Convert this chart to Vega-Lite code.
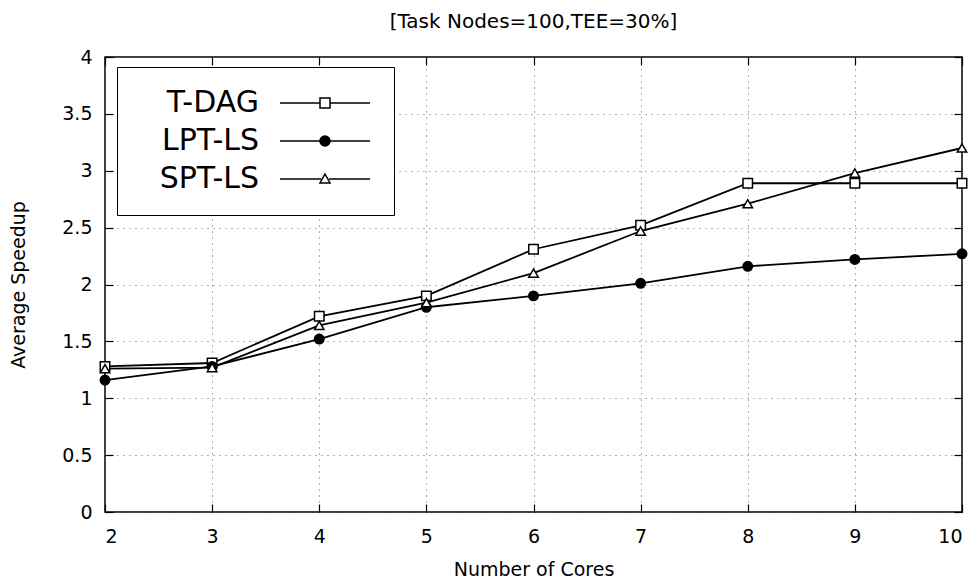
{
  "$schema": "https://vega.github.io/schema/vega-lite/v6.json",
  "width": 857,
  "height": 455,
  "autosize": {"type": "none"},
  "padding": {"left": 105, "top": 57, "right": 16, "bottom": 69},
  "background": "white",
  "config": {
    "font": "DejaVu Sans",
    "view": {"stroke": "black", "strokeWidth": 1.5},
    "axis": {
      "domain": false,
      "tickColor": "black",
      "tickSize": -8,
      "tickWidth": 1.2,
      "labelFontSize": 19,
      "labelColor": "black",
      "titleFontSize": 19,
      "titleFontWeight": "normal",
      "titleColor": "black",
      "gridColor": "#666666",
      "gridDash": [1, 5],
      "gridWidth": 1
    }
  },
  "title": {"text": "[Task Nodes=100,TEE=30%]", "fontSize": 20, "fontWeight": "normal", "color": "black", "offset": 16, "anchor": "middle"},
  "data": {
    "values": [
      {"cores": 2, "speedup": 1.28, "series": "T-DAG"},
      {"cores": 3, "speedup": 1.31, "series": "T-DAG"},
      {"cores": 4, "speedup": 1.72, "series": "T-DAG"},
      {"cores": 5, "speedup": 1.9, "series": "T-DAG"},
      {"cores": 6, "speedup": 2.31, "series": "T-DAG"},
      {"cores": 7, "speedup": 2.52, "series": "T-DAG"},
      {"cores": 8, "speedup": 2.89, "series": "T-DAG"},
      {"cores": 9, "speedup": 2.89, "series": "T-DAG"},
      {"cores": 10, "speedup": 2.89, "series": "T-DAG"},
      {"cores": 2, "speedup": 1.16, "series": "LPT-LS"},
      {"cores": 3, "speedup": 1.28, "series": "LPT-LS"},
      {"cores": 4, "speedup": 1.52, "series": "LPT-LS"},
      {"cores": 5, "speedup": 1.8, "series": "LPT-LS"},
      {"cores": 6, "speedup": 1.9, "series": "LPT-LS"},
      {"cores": 7, "speedup": 2.01, "series": "LPT-LS"},
      {"cores": 8, "speedup": 2.16, "series": "LPT-LS"},
      {"cores": 9, "speedup": 2.22, "series": "LPT-LS"},
      {"cores": 10, "speedup": 2.27, "series": "LPT-LS"},
      {"cores": 2, "speedup": 1.26, "series": "SPT-LS"},
      {"cores": 3, "speedup": 1.27, "series": "SPT-LS"},
      {"cores": 4, "speedup": 1.64, "series": "SPT-LS"},
      {"cores": 5, "speedup": 1.84, "series": "SPT-LS"},
      {"cores": 6, "speedup": 2.1, "series": "SPT-LS"},
      {"cores": 7, "speedup": 2.47, "series": "SPT-LS"},
      {"cores": 8, "speedup": 2.71, "series": "SPT-LS"},
      {"cores": 9, "speedup": 2.98, "series": "SPT-LS"},
      {"cores": 10, "speedup": 3.2, "series": "SPT-LS"}
    ]
  },
  "layer": [
    {
      "mark": {"type": "line", "color": "black", "strokeWidth": 1.8},
      "encoding": {
        "x": {"field": "cores", "type": "quantitative", "scale": {"domain": [2, 10], "nice": false, "zero": false},
              "axis": {"orient": "bottom", "values": [2, 3, 4, 5, 6, 7, 8, 9, 10], "grid": true, "title": "Number of Cores", "labelPadding": 23, "titlePadding": 14}},
        "y": {"field": "speedup", "type": "quantitative", "scale": {"domain": [0, 4], "nice": false},
              "axis": {"orient": "left", "values": [0, 0.5, 1, 1.5, 2, 2.5, 3, 3.5, 4], "grid": true, "format": "~g", "title": "Average Speedup", "labelPadding": 21, "titlePadding": 33}},
        "detail": {"field": "series", "type": "nominal"}
      }
    },
    {
      "mark": {"type": "point", "filled": true, "stroke": "black", "strokeWidth": 1.5, "size": 90, "opacity": 1},
      "encoding": {
        "x": {"field": "cores", "type": "quantitative", "axis": null},
        "y": {"field": "speedup", "type": "quantitative", "axis": null},
        "shape": {"field": "series", "type": "nominal", "scale": {"domain": ["T-DAG", "LPT-LS", "SPT-LS"], "range": ["square", "circle", "triangle-up"]}, "legend": null},
        "fill": {"field": "series", "type": "nominal", "scale": {"domain": ["T-DAG", "LPT-LS", "SPT-LS"], "range": ["white", "black", "white"]}, "legend": null}
      }
    },
    {
      "transform": [{"filter": "datum.speedup < 0"}],
      "mark": {"type": "point", "filled": true, "stroke": "black", "strokeWidth": 1.5, "size": 100, "opacity": 1},
      "encoding": {
        "x": {"field": "cores", "type": "quantitative", "axis": {"orient": "top", "values": [2, 3, 4, 5, 6, 7, 8, 9, 10], "labels": false, "grid": false, "title": null}},
        "y": {"field": "speedup", "type": "quantitative", "axis": {"orient": "right", "values": [0, 0.5, 1, 1.5, 2, 2.5, 3, 3.5, 4], "labels": false, "grid": false, "title": null}},
        "shape": {"field": "series", "type": "nominal",
          "scale": {"domain": ["T-DAG", "LPT-LS", "SPT-LS"],
                    "range": ["M-9,0H-1M1,0H9M-1,-1H1V1H-1Z", "M-9,0H9M-1,0A1,1 0 1,0 1,0A1,1 0 1,0 -1,0Z", "M-9,0H-0.8M0.8,0H9M0,-1L1,0.8H-1Z"]},
          "legend": {"orient": "none", "legendX": 12, "legendY": 10, "title": null, "labelFontSize": 30, "labelColor": "black", "labelAlign": "right", "labelOffset": -81, "symbolOffset": 172, "symbolSize": 100, "symbolStrokeWidth": 1.5, "symbolStrokeColor": "black", "symbolOpacity": 1, "strokeColor": "black", "fillColor": "white", "padding": 21, "rowPadding": 8,
                     "encode": {"symbols": {"update": {"stroke": {"value": "black"}, "strokeWidth": {"value": 1.5}, "opacity": {"value": 1}}}}}},
        "fill": {"field": "series", "type": "nominal",
          "scale": {"domain": ["T-DAG", "LPT-LS", "SPT-LS"], "range": ["white", "black", "white"]},
          "legend": {"orient": "none", "legendX": 12, "legendY": 10, "title": null, "labelFontSize": 30, "labelColor": "black", "labelAlign": "right", "labelOffset": -81, "symbolOffset": 172, "symbolSize": 100, "symbolStrokeWidth": 1.5, "symbolStrokeColor": "black", "symbolOpacity": 1, "strokeColor": "black", "fillColor": "white", "padding": 21, "rowPadding": 8,
                     "encode": {"symbols": {"update": {"stroke": {"value": "black"}, "strokeWidth": {"value": 1.5}, "opacity": {"value": 1}}}}}}
      }
    }
  ],
  "resolve": {"axis": {"x": "independent", "y": "independent"}, "scale": {"shape": "independent", "fill": "independent"}}
}
